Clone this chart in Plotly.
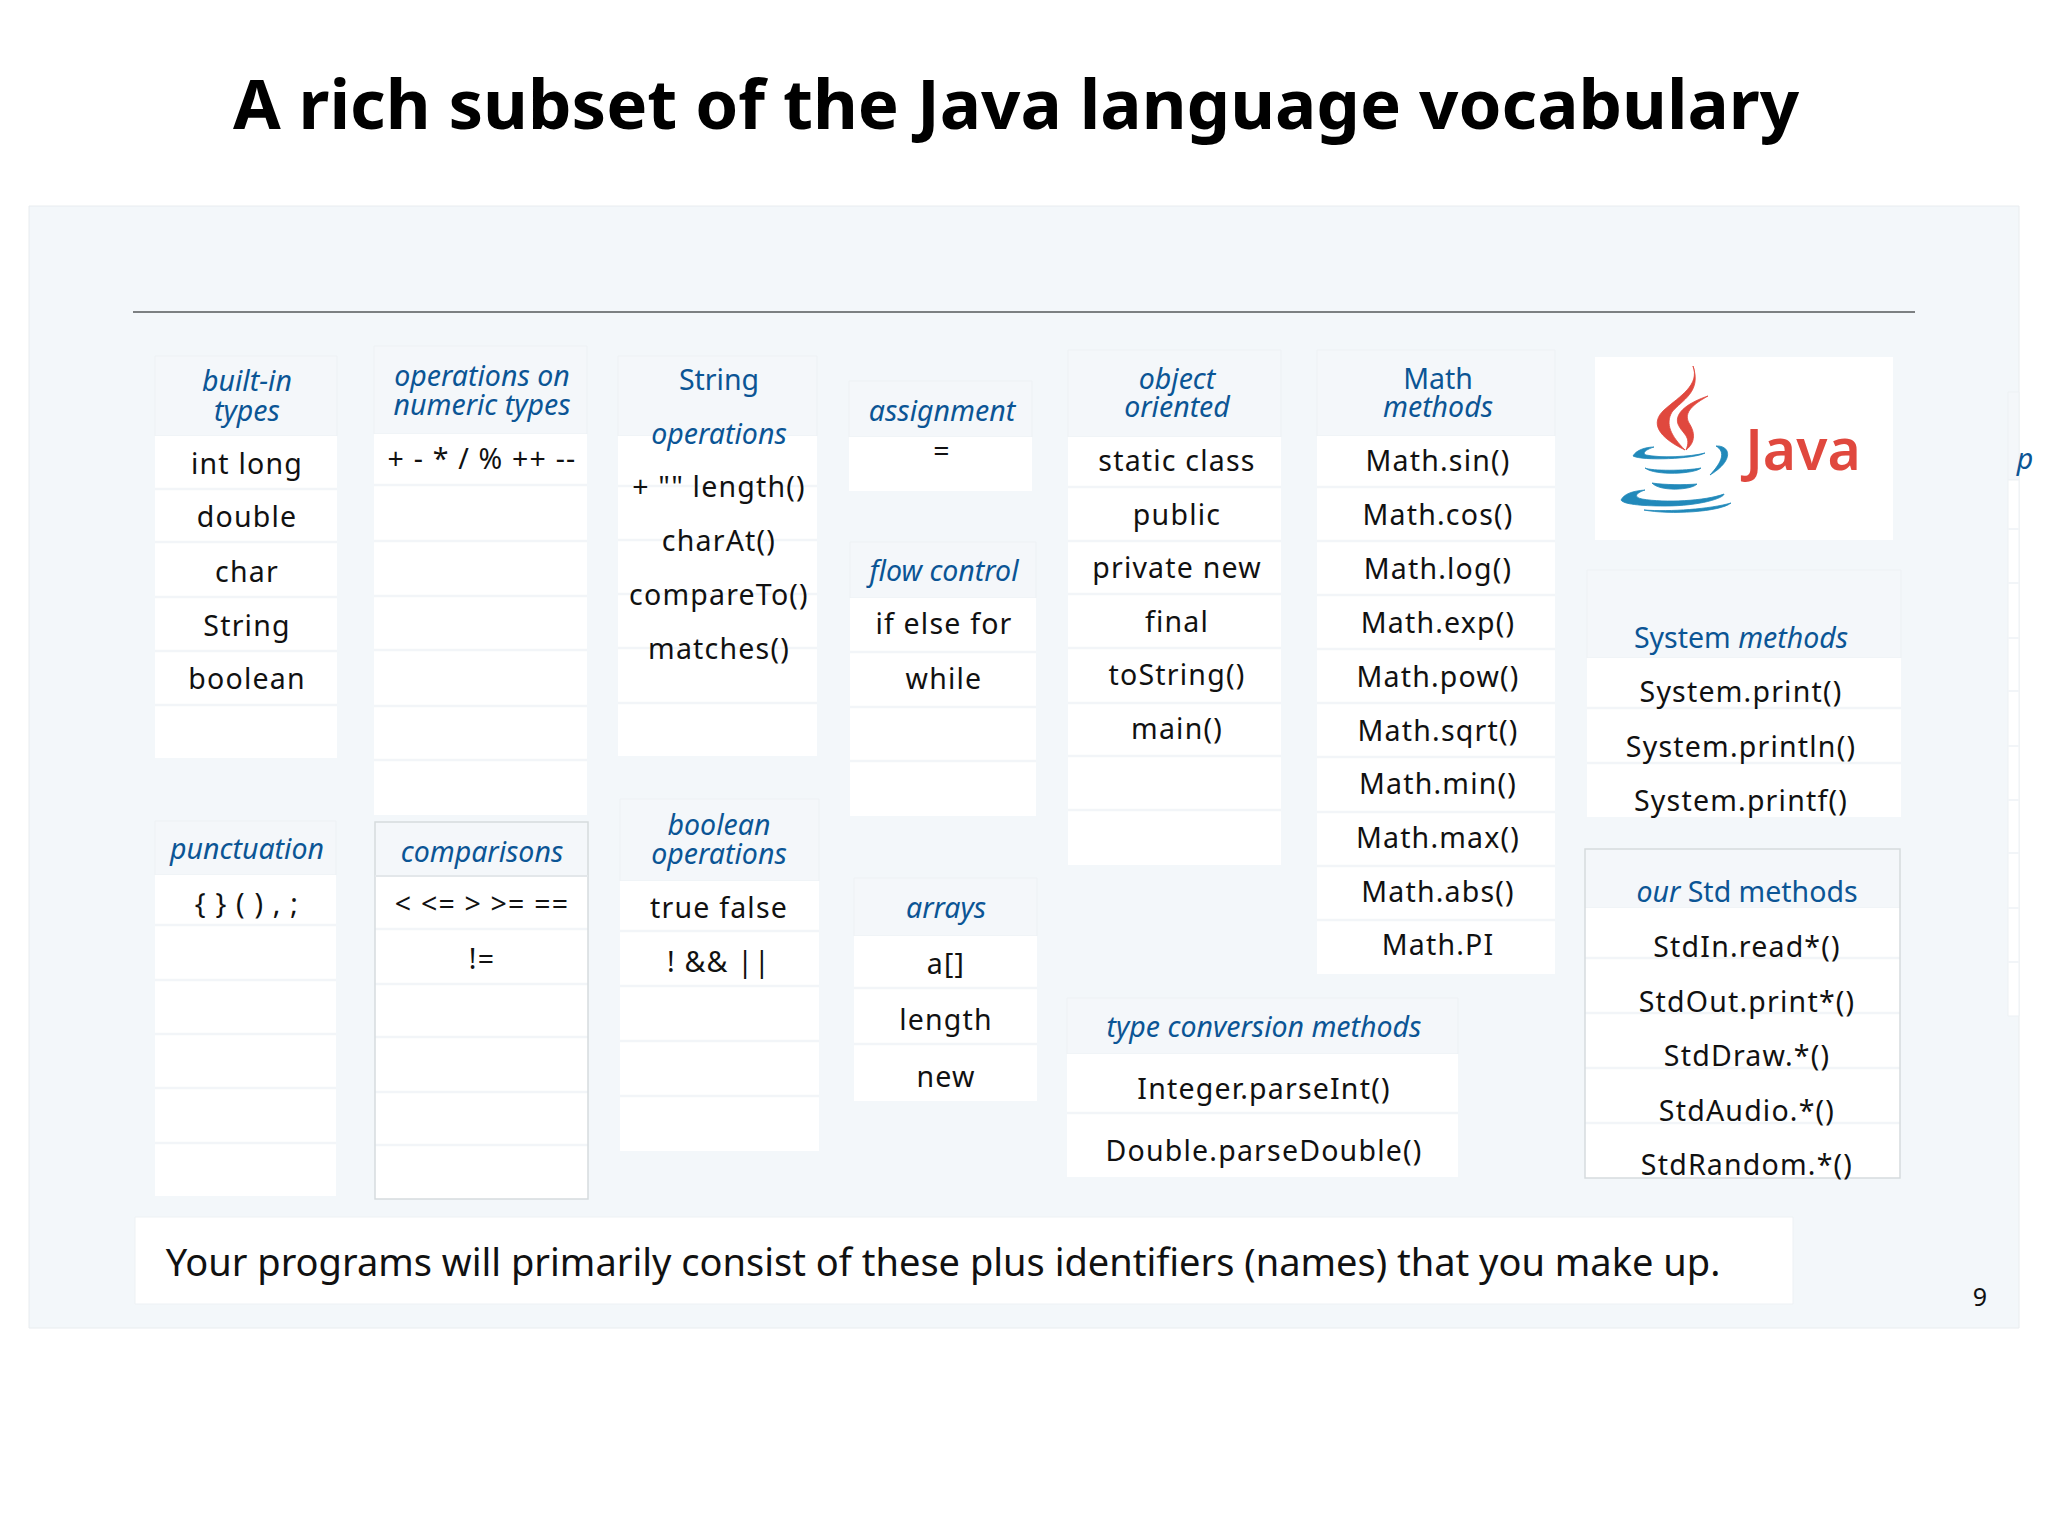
import plotly.graph_objects as go

TITLE = "A rich subset of the Java language vocabulary"
FOOTER = "Your programs will primarily consist of these plus identifiers (names) that you make up."
PAGE = "9"

H_BUILTIN = ["<i>built-in</i>", "<i>types</i>"]
C_BUILTIN = ["int long", "double", "char", "String", "boolean"]
H_NUMERIC = ["<i>operations on</i>", "<i>numeric types</i>"]
C_NUMERIC = ["+ - * / % ++ --"]
H_STRING = ["String", "<i>operations</i>"]
C_STRING = ['+ "" length()', "charAt()", "compareTo()", "matches()"]
H_ASSIGN = ["<i>assignment</i>"]
C_ASSIGN = ["="]
H_FLOW = ["<i>flow control</i>"]
C_FLOW = ["if else for", "while"]
H_OBJECT = ["<i>object</i>", "<i>oriented</i>"]
C_OBJECT = ["static class", "public", "private new", "final", "toString()", "main()"]
H_MATH = ["Math", "<i>methods</i>"]
C_MATH = ["Math.sin()", "Math.cos()", "Math.log()", "Math.exp()", "Math.pow()",
          "Math.sqrt()", "Math.min()", "Math.max()", "Math.abs()", "Math.PI"]
H_SYSTEM = ["System <i>methods</i>"]
C_SYSTEM = ["System.print()", "System.println()", "System.printf()"]
H_PUNCT = ["<i>punctuation</i>"]
C_PUNCT = ["{ } ( ) , ;"]
H_COMPARE = ["<i>comparisons</i>"]
C_COMPARE = ["&lt; &lt;= &gt; &gt;= ==", "!="]
H_BOOLEAN = ["<i>boolean</i>", "<i>operations</i>"]
C_BOOLEAN = ["true false", "! &amp;&amp; ||"]
H_ARRAYS = ["<i>arrays</i>"]
C_ARRAYS = ["a[]", "length", "new"]
H_CONVERT = ["<i>type conversion methods</i>"]
C_CONVERT = ["Integer.parseInt()", "Double.parseDouble()"]
H_STD = ["<i>our</i> Std methods"]
C_STD = ["StdIn.read*()", "StdOut.print*()", "StdDraw.*()", "StdAudio.*()", "StdRandom.*()"]
H_CUT = ["<i>p</i>"]

PANEL_BG = "#f3f7fa"
HEADER_BG = "#f4f7fa"
DIVIDER = "#f2f5f8"
EDGE = "#edf1f4"
BORDER = "#d6dbde"
BLUE_TEXT = "#0b5595"
RED = "#e0483e"
BLUE = "#2189ba"
FONT = "Noto Sans"
DY = 2.6

# geometry: x0, x1, top, header bottom, row bottoms, text centre x, header ys, cell ys, border
GEOMETRY = [
    (H_BUILTIN, C_BUILTIN, 155, 337, 356, 436, [489, 542, 597, 651, 705, 758], 247, [381, 411], [464, 517, 572, 626, 679], False),
    (H_NUMERIC, C_NUMERIC, 374, 587, 346, 434, [485, 541, 596, 650, 706, 760, 815], 482, [376, 405], [459], False),
    (H_STRING, C_STRING, 618, 817, 356, 436, [486, 540, 594, 648, 703, 756], 719, [380, 434], [487, 541, 595, 649], False),
    (H_ASSIGN, C_ASSIGN, 849, 1032, 381, 437, [491], 942, [411], [451], False),
    (H_FLOW, C_FLOW, 850, 1036, 542, 598, [652, 707, 761, 816], 944, [571], [624, 679], False),
    (H_OBJECT, C_OBJECT, 1068, 1281, 350, 437, [487, 541, 594, 648, 703, 756, 810, 865], 1177, [379, 407], [461, 515, 568, 622, 675, 729], False),
    (H_MATH, C_MATH, 1317, 1555, 350, 436, [487, 541, 595, 649, 703, 757, 812, 866, 920, 974], 1438, [379, 407], [461, 515, 569, 623, 677, 731, 784, 838, 892, 945], False),
    (H_SYSTEM, C_SYSTEM, 1587, 1901, 570, 658, [708, 763, 817], 1741, [638], [692, 747, 801], False),
    (H_PUNCT, C_PUNCT, 155, 336, 821, 875, [925, 980, 1034, 1088, 1143, 1196], 247, [849], [904], False),
    (H_COMPARE, C_COMPARE, 375, 588, 822, 876, [929, 984, 1037, 1092, 1145, 1199], 482, [852], [904, 959], True),
    (H_BOOLEAN, C_BOOLEAN, 620, 819, 799, 881, [931, 986, 1041, 1096, 1151], 719, [825, 854], [908, 962], False),
    (H_ARRAYS, C_ARRAYS, 854, 1037, 878, 936, [988, 1044, 1101], 946, [908], [964, 1020, 1077], False),
    (H_CONVERT, C_CONVERT, 1067, 1458, 998, 1054, [1113, 1177], 1264, [1027], [1089, 1151], False),
    (H_STD, C_STD, 1585, 1900, 849, 908, [958, 1013, 1068, 1123, 1178], 1747, [892], [947, 1002, 1056, 1111, 1165], True),
]
CUT_ROWS = [529, 583, 638, 691, 746, 800, 853, 908, 962, 1016]

shapes = []

def rect(x0, y0, x1, y1, fill, edge=None, w=0):
    shapes.append(dict(type="rect", xref="x", yref="y", x0=x0, x1=x1, y0=y0, y1=y1,
                       fillcolor=fill, layer="below",
                       line=dict(color=edge or fill, width=w)))

def hline(x0, x1, y, color, w=2):
    shapes.append(dict(type="line", xref="x", yref="y", x0=x0, x1=x1, y0=y, y1=y,
                       layer="below", line=dict(color=color, width=w)))

def blob(path, color):
    shapes.append(dict(type="path", xref="x", yref="y", path=path, fillcolor=color,
                       layer="below", line=dict(color=color, width=0.8)))

rect(29, 206, 2019, 1328, PANEL_BG, "#e8ecef", 1)
hline(133, 1915, 312, "#55585a", 1.5)

for head, cells, x0, x1, top, hb, rows, cx, hy, cy, bordered in GEOMETRY:
    rect(x0, top, x1, hb, HEADER_BG, EDGE, 1)
    rect(x0, hb, x1, rows[-1], "#ffffff")
    for r in rows[:-1]:
        hline(x0, x1, r, DIVIDER, 2.5)
    if bordered:
        rect(x0, top, x1, rows[-1], "rgba(0,0,0,0)", BORDER, 1.5)
    if head is H_COMPARE:
        hline(x0, x1, hb, "#e3e7ea", 2)

# panel cut off by the slide edge
rect(2008, 392, 2019, 480, HEADER_BG, EDGE, 1)
rect(2008, 480, 2019, CUT_ROWS[-1], "#ffffff", EDGE, 1)
for r in CUT_ROWS[:-1]:
    hline(2008, 2019, r, DIVIDER, 2)

# footer box and logo box
rect(135, 1217, 1793, 1304, "#ffffff", EDGE, 1)
rect(1595, 357, 1893, 540, "#ffffff")

# Java logo, steam and cup
blob("M1693,366 C1700,385 1680,396 1664,410 C1650,423 1658,437 1685,450 "
     "C1671,436 1665,424 1672,412 C1682,400 1702,392 1693,366 Z", RED)
blob("M1708,396 C1690,402 1674,412 1678,424 C1682,434 1692,436 1686,450 "
     "C1696,442 1695,432 1689,423 C1683,412 1694,404 1708,396 Z", RED)
blob("M1633,456 C1636,450 1646,447 1654,447 C1645,450 1642,453 1646,455 "
     "C1660,458 1690,457 1705,453 C1695,459 1642,461 1633,456 Z", BLUE)
blob("M1716,446 C1730,445 1735,460 1710,475 C1722,462 1726,452 1716,446 Z", BLUE)
blob("M1645,468 C1652,471 1685,471 1701,468 C1695,474 1655,476 1645,468 Z", BLUE)
blob("M1652,483 C1665,485 1685,485 1697,484 C1692,490 1660,492 1652,483 Z", BLUE)
blob("M1621,500 C1624,494 1632,491 1645,490 C1636,493 1633,497 1642,499 "
     "C1665,503 1705,501 1724,494 C1724,498 1700,506 1665,506 C1640,506 1623,504 1621,500 Z", BLUE)
blob("M1644,510 C1670,512 1710,509 1731,503 C1720,512 1670,515 1644,510 Z", BLUE)

traces = []

def text_trace(xs, ys, labels, size, color, spacing=0, weight=None):
    font = dict(family=FONT, size=size, color=color)
    if weight:
        font["weight"] = weight
    traces.append(go.Scatter(x=xs, y=ys, text=labels, mode="text", textposition="middle center",
                             textfont=font, hoverinfo="skip", showlegend=False,
                             cliponaxis=False, meta=spacing))

for head, cells, x0, x1, top, hb, rows, cx, hy, cy, bordered in GEOMETRY:
    text_trace([cx] * len(head), [y + DY for y in hy], head, 28.5, BLUE_TEXT)
    text_trace([cx] * len(cells), [y + DY for y in cy], cells, 28.5, "#111111", 1.2)

text_trace([2025], [462], H_CUT, 28.5, BLUE_TEXT)
text_trace([1016], [112], [TITLE], 69, "#000000", 0, 700)
text_trace([943], [1266], [FOOTER], 38, "#111111")
text_trace([1980], [1300], [PAGE], 25, "#111111")
text_trace([1803], [456], ["Java"], 57, RED, 0, 600)

fig = go.Figure(traces)
fig.update_layout(
    width=2048, height=1536, autosize=False,
    margin=dict(l=0, r=0, t=0, b=0),
    paper_bgcolor="#ffffff", plot_bgcolor="#ffffff",
    showlegend=False, shapes=shapes,
    xaxis=dict(range=[0, 2048], visible=False, fixedrange=True),
    yaxis=dict(range=[1536, 0], visible=False, fixedrange=True),
)

POST = """
document.body.style.margin = '0';
document.body.style.overflow = 'hidden';
var gd = document.getElementById('{plot_id}');
function applySpacing() {
  var groups = gd.querySelectorAll('.scatterlayer .trace');
  gd.data.forEach(function (t, i) {
    if (t.meta && groups[i]) {
      groups[i].querySelectorAll('text').forEach(function (n) {
        n.style.letterSpacing = t.meta + 'px';
      });
    }
  });
}
applySpacing();
"""
fig.write_html("out.html", post_script=POST, config=dict(displayModeBar=False))
